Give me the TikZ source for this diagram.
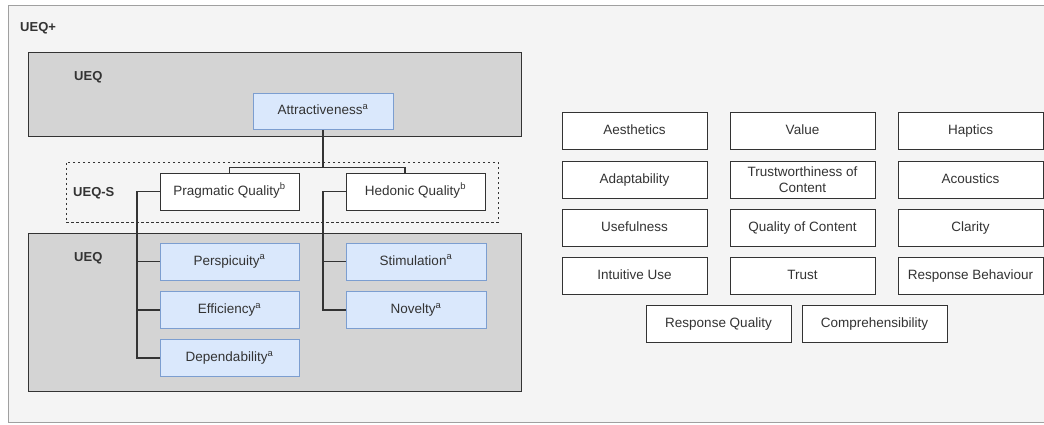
\documentclass[tikz,border=0pt]{standalone}
\usepackage{fontspec}
\setmainfont{Liberation Sans}
\definecolor{framefill}{HTML}{F4F4F4}
\definecolor{framedraw}{HTML}{A0A0A0}
\definecolor{grayfill}{HTML}{D4D4D4}
\definecolor{darkline}{HTML}{333333}
\definecolor{bluefill}{HTML}{DAE8FC}
\definecolor{bluedraw}{HTML}{7C9ED0}
\definecolor{txt}{HTML}{333333}
\begin{document}
\begin{tikzpicture}[x=1pt,y=-1pt,
  every node/.style={font=\fontsize{13.5}{16}\selectfont, text=txt, inner sep=0pt},
  frame/.style={draw=framedraw, fill=framefill, line width=1pt},
  grp/.style={draw=darkline, fill=grayfill, line width=1pt},
  dgrp/.style={draw=darkline, dash pattern=on 2.5pt off 2.5pt, line width=0.9pt},
  lbl/.style={anchor=west, font=\fontsize{13}{15}\selectfont\bfseries},
  oneline/.style={text height=10pt, text depth=3pt},
  bluebox/.style={oneline, draw=bluedraw, fill=bluefill, line width=0.9pt, minimum width=139, minimum height=37},
  whitebox/.style={oneline, draw=darkline, fill=white, line width=1pt, minimum width=139, minimum height=37},
  dimbox/.style={draw=darkline, fill=white, line width=1pt, minimum width=145, minimum height=37, align=center},
  conn/.style={draw=darkline, line width=1.1pt}
]
\clip (0,0) rectangle (1044,425);
\fill[white] (0,0) rectangle (1044,425);
% containers
\node[frame, anchor=north west, minimum width=1046, minimum height=417] (uplus) at (8,5) {};
\node[lbl] (uplusl) at (20,28) {UEQ+};
\node[grp, minimum width=493, minimum height=84] (ueqtop) at (274.5,95) {};
\node[lbl] (ueqtopl) at (74,77) {UEQ};
\node[dgrp, minimum width=432, minimum height=60] (ueqs) at (282,192) {};
\node[lbl] (ueqsl) at (73,193) {UEQ-S};
\node[grp, minimum width=493, minimum height=158] (ueqbot) at (274.5,312) {};
\node[lbl] (ueqbotl) at (74,258) {UEQ};
% nodes
\node[bluebox, minimum width=140, minimum height=36] (attr) at (323,111) {Attractiveness\textsuperscript{a}};
\node[whitebox] (prag) at (229.5,191.5) {Pragmatic Quality\textsuperscript{b}};
\node[whitebox] (hed) at (415.5,191.5) {Hedonic Quality\textsuperscript{b}};
\node[bluebox] (persp) at (229.5,261.5) {Perspicuity\textsuperscript{a}};
\node[bluebox] (eff) at (229.5,310) {Efficiency\textsuperscript{a}};
\node[bluebox] (dep) at (229.5,358) {Dependability\textsuperscript{a}};
\node[bluebox, minimum width=140] (stim) at (416,261.5) {Stimulation\textsuperscript{a}};
\node[bluebox, minimum width=140] (nov) at (416,310) {Novelty\textsuperscript{a}};
% connectors
\coordinate (lt) at (137,0);
\coordinate (rt) at (323,0);
\coordinate (hedin) at (405,173);
\draw[conn] (attr.south) -- ++(0,38) -| (prag.north);
\draw[conn] (attr.south) -- ++(0,38) -| (hedin);
\draw[conn] (prag.west) -- (prag.west -| lt) |- (dep.west);
\draw[conn] (persp.west -| lt) -- (persp.west);
\draw[conn] (eff.west -| lt) -- (eff.west);
\draw[conn] (hed.west) -- (hed.west -| rt) |- (nov.west);
\draw[conn] (stim.west -| rt) -- (stim.west);
% redraw boxes above connectors
\node[bluebox, minimum width=140, minimum height=36] at (attr) {Attractiveness\textsuperscript{a}};
\node[whitebox] at (prag) {Pragmatic Quality\textsuperscript{b}};
\node[whitebox] at (hed) {Hedonic Quality\textsuperscript{b}};
% UEQ+ dimensions
\node[dimbox, oneline] (aes) at (634.5,131.5) {Aesthetics};
\node[dimbox, oneline] (val) at (802.5,131.5) {Value};
\node[dimbox, oneline] (hap) at (970.5,131.5) {Haptics};
\node[dimbox, oneline] (ada) at (634.5,179.5) {Adaptability};
\node[dimbox] (trc) at (802.5,179.5) {Trustworthiness of\\Content};
\node[dimbox, oneline] (aco) at (970.5,179.5) {Acoustics};
\node[dimbox, oneline] (use) at (634.5,228) {Usefulness};
\node[dimbox, oneline] (qoc) at (802.5,228) {Quality of Content};
\node[dimbox, oneline] (cla) at (970.5,228) {Clarity};
\node[dimbox, oneline] (int) at (634.5,276) {Intuitive Use};
\node[dimbox, oneline] (tru) at (802.5,276) {Trust};
\node[dimbox, oneline] (rsb) at (970.5,276) {Response Behaviour};
\node[dimbox, oneline] (rsq) at (718.5,324) {Response Quality};
\node[dimbox, oneline] (com) at (874.5,324) {Comprehensibility};
\end{tikzpicture}
\end{document}
